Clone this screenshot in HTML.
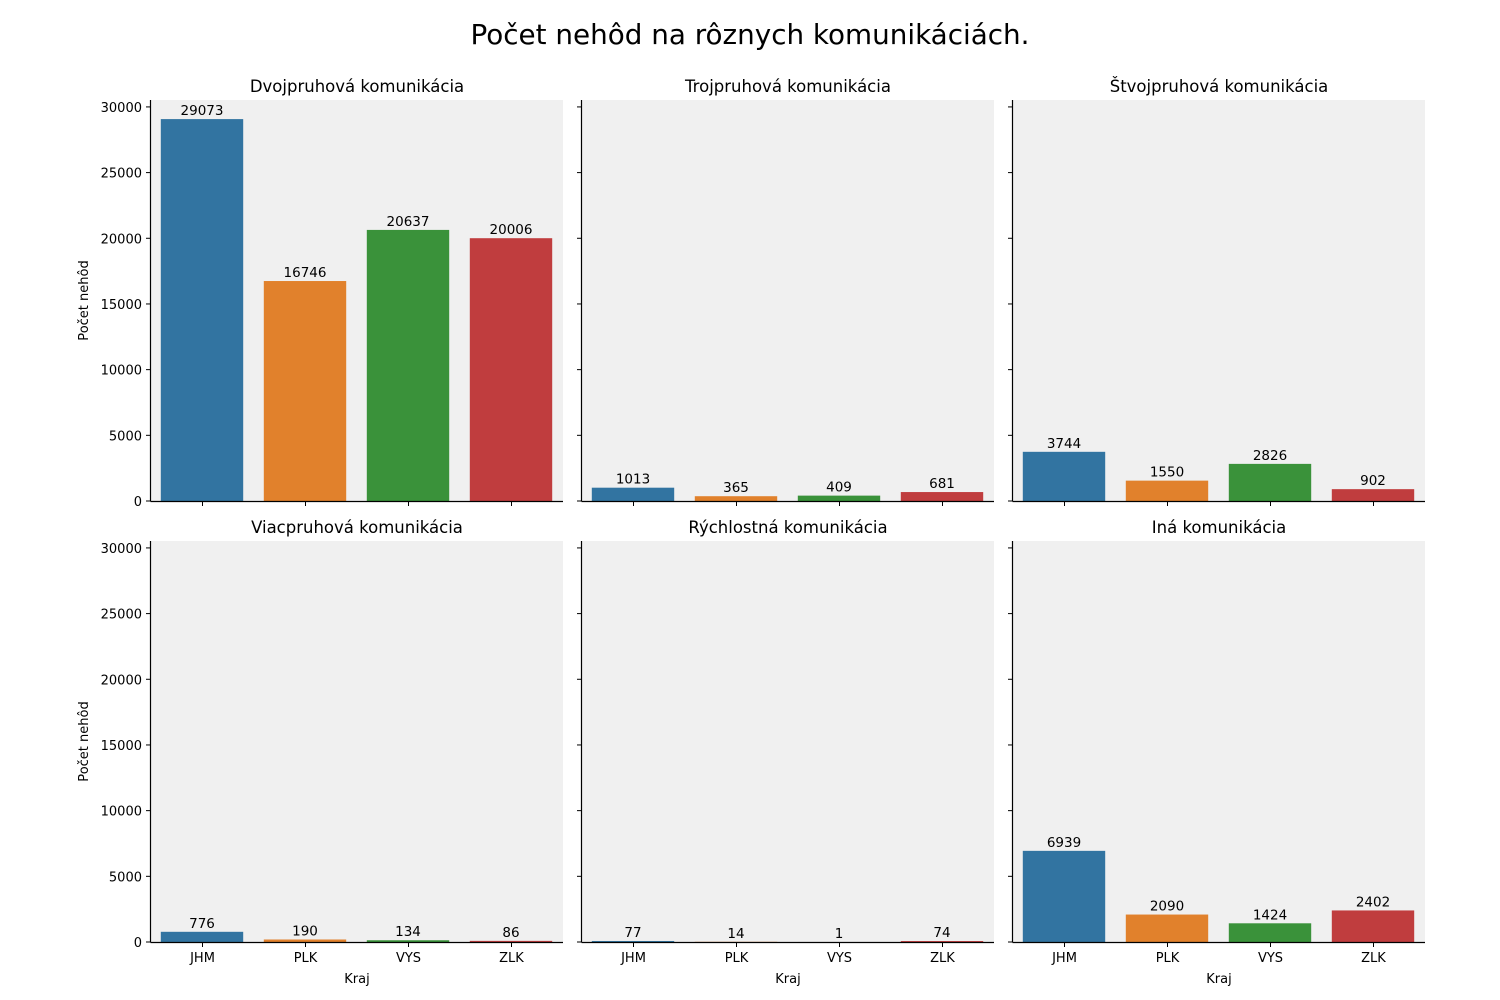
<!DOCTYPE html>
<html><head><meta charset="utf-8"><style>
body{margin:0;background:#fff;}
svg{display:block;font-family:"DejaVu Sans","Liberation Sans",sans-serif;}
</style></head><body>
<svg id="chart" width="1500" height="1000" viewBox="0 0 1500 1000">
<text x="750" y="44" text-anchor="middle" font-size="27.8" fill="#000">Počet nehôd na rôznych komunikáciách.</text>
</svg>
<script>
const categories = ["JHM","PLK","VYS","ZLK"];
const panelTitles = ["Dvojpruhová komunikácia","Trojpruhová komunikácia","Štvojpruhová komunikácia","Viacpruhová komunikácia","Rýchlostná komunikácia","Iná komunikácia"];
const dvojpruhova = [29073,16746,20637,20006];
const trojpruhova = [1013,365,409,681];
const stvojpruhova = [3744,1550,2826,902];
const viacpruhova = [776,190,134,86];
const rychlostna = [77,14,1,74];
const ina = [6939,2090,1424,2402];
const yTicks = [0,5000,10000,15000,20000,25000,30000];
const seriesList = [dvojpruhova,trojpruhova,stvojpruhova,viacpruhova,rychlostna,ina];
const colors = ["#3274a1","#e1812c","#3a923a","#c03d3e"];
const NS = "http://www.w3.org/2000/svg";
const svg = document.getElementById("chart");
const colX = [151,582,1013], rowY = [100,541], W = 412, H = 401;
const yMax = Math.max(...seriesList.flat()) * 1.05;
function mk(tag, attrs, parent){const e=document.createElementNS(NS,tag);for(const k in attrs)e.setAttribute(k,attrs[k]);(parent||svg).appendChild(e);return e;}
seriesList.forEach((vals, p) => {
  const col = p % 3, row = Math.floor(p / 3);
  const x0 = colX[col], y0 = rowY[row];
  const g = mk("g", {});
  
  
  const bg = mk("rect", {x:x0, y:y0, width:W, height:H, fill:"#f0f0f0"}, g);
  
  
  const yS = v => y0 + H - v / yMax * H;
  const slot = W / categories.length;
  const xS = i => x0 + slot * (i + 0.5);
  vals.forEach((v, i) => {
    const bw = slot * 0.8;
    const r = mk("rect", {x:xS(i)-bw/2-0.5, y:yS(v), width:bw, height:y0+H-yS(v), fill:colors[i]}, g);
    
    
    const t = mk("text", {x:xS(i)-0.5, y:yS(v)-4, "text-anchor":"middle", "font-size":"13.5", fill:"#000"}, g);
    t.textContent = v;
    
    
    mk("line", {x1:xS(i), x2:xS(i), y1:y0+H, y2:y0+H+5, stroke:"#000", "stroke-width":1}, g);
    if (row === 1) {
      const xl = mk("text", {x:xS(i), y:y0+H+20, "text-anchor":"middle", "font-size":"13", fill:"#000"}, g);
      xl.textContent = categories[i];
      
      
    }
  });
  yTicks.forEach(tv => {
    mk("line", {x1:x0-5, x2:x0, y1:yS(tv), y2:yS(tv), stroke:"#000", "stroke-width":1}, g);
    if (col === 0) {
      const yl = mk("text", {x:x0-9, y:yS(tv)+5, "text-anchor":"end", "font-size":"13", fill:"#000"}, g);
      yl.textContent = tv;
      
      
    }
  });
  mk("line", {x1:x0-0.5, x2:x0-0.5, y1:y0, y2:y0+H+0.5, stroke:"#000", "stroke-width":1.2}, g);
  mk("line", {x1:x0-0.5, x2:x0+W, y1:y0+H+0.5, y2:y0+H+0.5, stroke:"#000", "stroke-width":1.2}, g);
  const tt = mk("text", {x:x0+W/2, y:y0-8, "text-anchor":"middle", "font-size":"16.5", fill:"#000"}, g);
  tt.textContent = panelTitles[p];
  
  
  if (col === 0) {
    const yt = mk("text", {transform:`translate(88,${y0+H/2}) rotate(-90)`, "text-anchor":"middle", "font-size":"13", fill:"#000"}, g);
    yt.textContent = "Počet nehôd";
    
    
  }
  if (row === 1) {
    const xt = mk("text", {x:x0+W/2, y:y0+H+41, "text-anchor":"middle", "font-size":"13", fill:"#000"}, g);
    xt.textContent = "Kraj";
    
    
  }
});
</script>
</body></html>
